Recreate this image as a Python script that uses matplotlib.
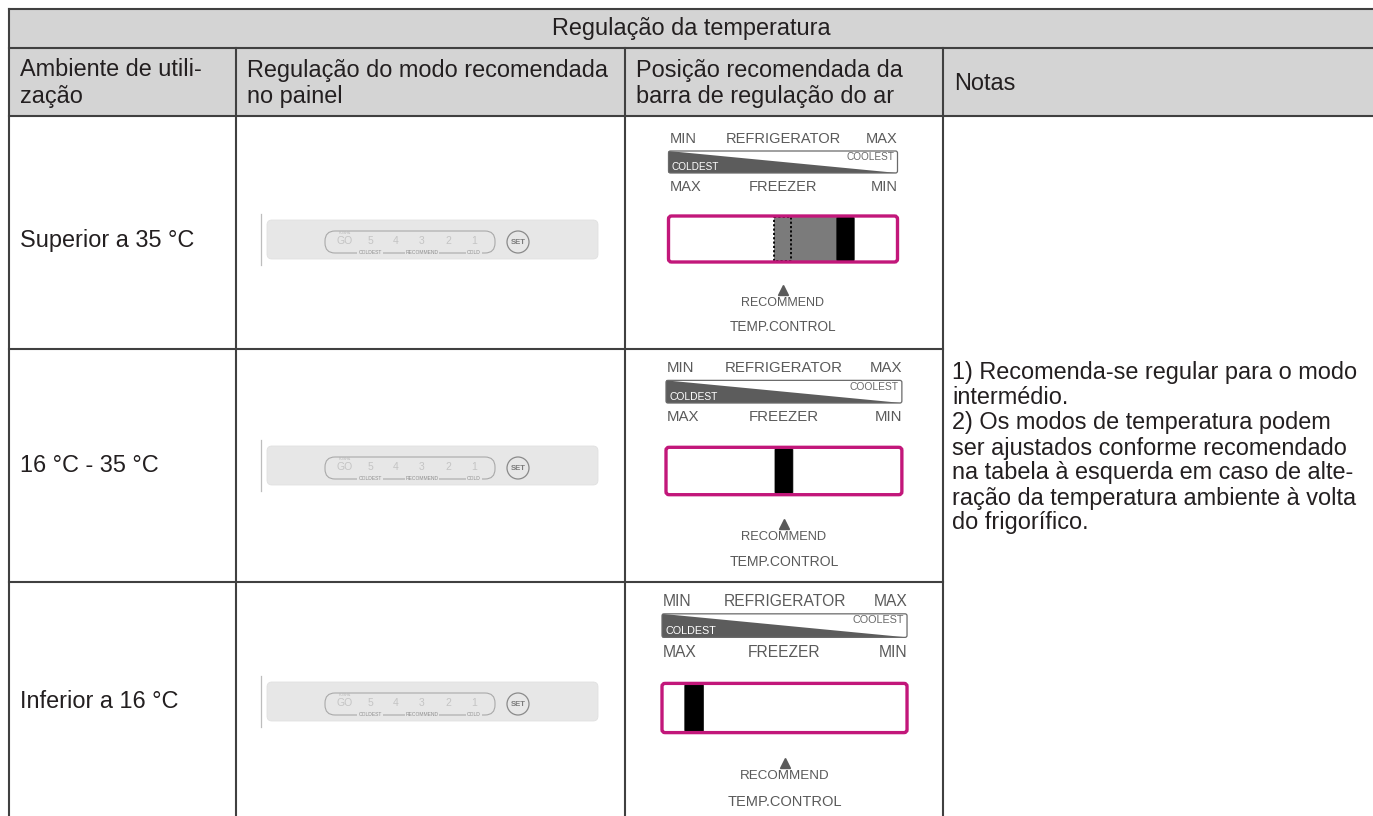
import matplotlib
matplotlib.use("Agg")
import matplotlib.pyplot as plt
from matplotlib.patches import Rectangle, FancyBboxPatch, Polygon, Circle

plt.rcParams['font.family'] = ['Liberation Sans', 'DejaVu Sans']

# ---------------- data ----------------
title = "Regulação da temperatura"
headers = [["Ambiente de utili-", "zação"],
           ["Regulação do modo recomendada", "no painel"],
           ["Posição recomendada da", "barra de regulação do ar"],
           ["Notas"]]
environments = ["Superior a 35 °C", "16 °C - 35 °C", "Inferior a 16 °C"]
# slider (black block) left edge as fraction of the air-control bar width
slider_pos = [0.735, 0.462, 0.093]
# start of shaded adjustable range (None = no range shown)
range_start = [0.459, None, None]
panel_numbers = ["5", "4", "3", "2", "1"]
panel_labels = ["COLDEST", "RECOMMEND", "COLD"]
notes_lines = ["1) Recomenda-se regular para o modo",
               "intermédio.",
               "2) Os modos de temperatura podem",
               "ser ajustados conforme recomendado",
               "na tabela à esquerda em caso de alte-",
               "ração da temperatura ambiente à volta",
               "do frigorífico."]

# ---------------- figure ----------------
W, H = 1373, 816
fig = plt.figure(figsize=(W / 100, H / 100), dpi=100)
ax = fig.add_axes([0, 0, 1, 1])
ax.set_xlim(0, W)
ax.set_ylim(H, 0)
ax.axis('off')

LC = "#404040"
TC = "#231f20"
FS = 16.9
LW = 1.5

x_left = 9
cols = [9, 236, 625, 943]
y_top, y_title, y_head = 9, 48, 116
row_edges = [116, 349, 582, 816]

# header background
ax.add_patch(Rectangle((x_left, y_top), W - x_left + 5, y_head - y_top,
                       facecolor="#d4d4d4", edgecolor="none", zorder=0))
# lines
ax.plot([x_left, W], [y_top, y_top], color=LC, lw=LW)
ax.plot([x_left, W], [y_title, y_title], color=LC, lw=LW)
ax.plot([x_left, W], [y_head, y_head], color=LC, lw=LW)
for ye in row_edges[1:3]:
    ax.plot([x_left, cols[3]], [ye, ye], color=LC, lw=LW)
ax.plot([x_left, x_left], [y_top, H], color=LC, lw=LW)
for xc in cols[1:]:
    ax.plot([xc, xc], [y_title, H], color=LC, lw=LW)

# title
ax.text((x_left + W) / 2, 29, title, ha='center', va='center', fontsize=FS, color=TC)
# headers
for ci, lines in enumerate(headers):
    x = cols[ci] + 11
    if len(lines) == 2:
        ax.text(x, 70, lines[0], ha='left', va='center', fontsize=FS, color=TC)
        ax.text(x, 97, lines[1], ha='left', va='center', fontsize=FS, color=TC)
    else:
        ax.text(x, 83, lines[0], ha='left', va='center', fontsize=FS, color=TC)

# notes
for i, line in enumerate(notes_lines):
    ax.text(952, 373 + 25 * i, line, ha='left', va='center', fontsize=FS, color=TC)

row_centers = [240, 466, 702]
for i, env in enumerate(environments):
    ax.text(20, row_centers[i], env, ha='left', va='center', fontsize=FS, color=TC)


# ---------------- control panel drawing ----------------
def draw_panel(cy):
    ax.plot([261, 261], [cy - 26, cy + 25], color="#bdbdbd", lw=0.9)
    ax.add_patch(FancyBboxPatch((267, cy - 20), 331, 39,
                                boxstyle="round,pad=0,rounding_size=5",
                                facecolor="#e7e7e7", edgecolor="#e0e0e0", lw=0.6))
    ax.add_patch(FancyBboxPatch((325, cy - 9), 170, 22,
                                boxstyle="round,pad=0,rounding_size=10",
                                facecolor="none", edgecolor="#a9a9a9", lw=0.8))
    ax.text(345, cy - 6.5, "PUSH&", ha='center', va='center', fontsize=2.6, color="#b5b5b5")
    ax.text(345, cy + 1.5, "GO", ha='center', va='center', fontsize=7.5, color="#c4c4c4")
    xs = [370, 396, 422, 448, 474]
    for x, n in zip(xs, panel_numbers):
        ax.text(x, cy + 0.5, n, ha='center', va='center', fontsize=7.5, color="#c4c4c4")
    for x, lab in zip([370, 422, 474], panel_labels):
        ax.text(x, cy + 13, lab, ha='center', va='center', fontsize=3.6, color="#8f8f8f",
                bbox=dict(facecolor="#e7e7e7", edgecolor="none", pad=0.6))
    ax.add_patch(Circle((518, cy + 2), 11, facecolor="none", edgecolor="#8a8a8a", lw=0.9))
    ax.text(518, cy + 2.5, "SET", ha='center', va='center', fontsize=5.6, color="#7a7a7a",
            fontweight='bold')


# ---------------- air-control bar drawing ----------------
def draw_airbar(x0, y0, s, pos, rstart):
    w = 229 * s
    x1 = x0 + w
    xc = x0 + w / 2
    gc = "#5a5a5a"
    fs = 10.5 * s
    ax.text(x0 + 1, y0, "MIN", ha='left', va='center', fontsize=fs, color=gc)
    ax.text(xc, y0, "REFRIGERATOR", ha='center', va='center', fontsize=fs, color=gc)
    ax.text(x1, y0, "MAX", ha='right', va='center', fontsize=fs, color=gc)
    wt, wb = y0 + 12 * s, y0 + 34 * s
    ax.add_patch(Polygon([(x0, wt), (x1, wb), (x0, wb)], closed=True,
                         facecolor="#5c5c5c", edgecolor="none"))
    ax.add_patch(FancyBboxPatch((x0, wt), w, wb - wt,
                                boxstyle="round,pad=0,rounding_size=2",
                                facecolor="none", edgecolor="#6a6a6a", lw=0.9))
    ax.text(x0 + 3, wb - 6 * s, "COLDEST", ha='left', va='center', fontsize=7.2 * s, color="white")
    ax.text(x1 - 3, wt + 6 * s, "COOLEST", ha='right', va='center', fontsize=7.2 * s, color="#6a6a6a")
    yf = y0 + 48 * s
    ax.text(x0 + 1, yf, "MAX", ha='left', va='center', fontsize=fs, color=gc)
    ax.text(xc, yf, "FREEZER", ha='center', va='center', fontsize=fs, color=gc)
    ax.text(x1, yf, "MIN", ha='right', va='center', fontsize=fs, color=gc)
    bt, bb = y0 + 77 * s, y0 + 123 * s
    bw = 0.076 * w
    if rstart is not None:
        ax.add_patch(Rectangle((x0 + rstart * w, bt), (pos - rstart) * w, bb - bt,
                               facecolor="#7b7b7b", edgecolor="none"))
        ax.add_patch(Rectangle((x0 + rstart * w, bt + 1), bw, bb - bt - 2,
                               facecolor="none", edgecolor="black", lw=1.3,
                               linestyle=(0, (1.2, 1.2))))
    ax.add_patch(FancyBboxPatch((x0 + pos * w, bt), bw, bb - bt,
                                boxstyle="round,pad=0,rounding_size=2.5",
                                facecolor="black", edgecolor="black", lw=0.5))
    ax.add_patch(FancyBboxPatch((x0, bt), w, bb - bt,
                                boxstyle="round,pad=0,rounding_size=3",
                                facecolor="none", edgecolor="#c2177a", lw=2.4))
    ax.plot([xc], [y0 + 151 * s], marker='^', markersize=6.5 * s, color="#5a5a5a", linestyle='none')
    ax.text(xc, y0 + 164 * s, "RECOMMEND", ha='center', va='center', fontsize=9 * s, color=gc)
    ax.text(xc, y0 + 188 * s, "TEMP.CONTROL", ha='center', va='center', fontsize=9.8 * s, color=gc)


bar_geom = [(668.5, 139, 1.0), (666, 368, 1.03), (662, 601, 1.07)]
for i in range(3):
    draw_panel(row_centers[i])
    x0, y0, s = bar_geom[i]
    draw_airbar(x0, y0, s, slider_pos[i], range_start[i])

fig.savefig("out.png", dpi=100)
